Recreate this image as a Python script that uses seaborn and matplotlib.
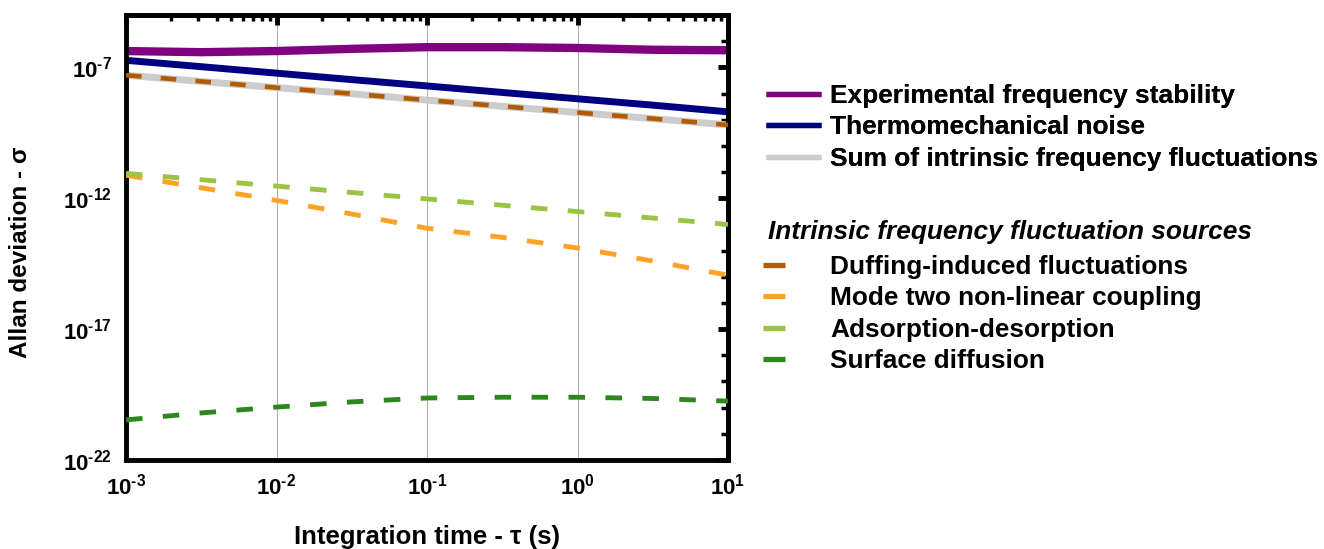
import matplotlib
matplotlib.use("Agg")
import matplotlib.pyplot as plt
import numpy as np
import pandas as pd
import seaborn as sns
from matplotlib.lines import Line2D
from matplotlib.ticker import FixedLocator, FixedFormatter, LogLocator, NullFormatter

# integration time (s)
tau = [1e-3, 10**-2.5, 1e-2, 10**-1.5, 1e-1, 10**-0.5, 1e0, 10**0.5, 1e1]

# Allan deviation of each curve
experimental = [4.2e-7, 3.8e-7, 4.2e-7, 5.1e-7, 5.9e-7, 5.9e-7, 5.5e-7, 4.7e-7, 4.5e-7]
thermomechanical = [1.86e-7, 1.06e-7, 6.0e-8, 3.4e-8, 1.95e-8, 1.1e-8, 6.3e-9, 3.6e-9, 2.0e-9]
intrinsic_sum = [5.0e-8, 2.9e-8, 1.68e-8, 9.8e-9, 5.6e-9, 3.25e-9, 1.88e-9, 1.1e-9, 6.3e-10]
duffing = [5.0e-8, 2.9e-8, 1.68e-8, 9.8e-9, 5.6e-9, 3.25e-9, 1.88e-9, 1.1e-9, 6.3e-10]
mode_two = [7.6e-12, 2.5e-12, 8.3e-13, 2.5e-13, 7.1e-14, 3.2e-14, 1.26e-14, 4.0e-15, 1.15e-15]
adsorption = [8.9e-12, 5.1e-12, 2.9e-12, 1.66e-12, 9.4e-13, 5.4e-13, 3.1e-13, 1.75e-13, 1.0e-13]
surface_diff = [3.4e-21, 6.3e-21, 1.05e-20, 1.66e-20, 2.34e-20, 2.5e-20, 2.5e-20, 2.24e-20, 1.78e-20]

main_labels = ["Experimental frequency stability", "Thermomechanical noise",
               "Sum of intrinsic frequency fluctuations"]
source_title = "Intrinsic frequency fluctuation sources"
source_labels = ["Duffing-induced fluctuations", "Mode two non-linear coupling",
                 "Adsorption-desorption", "Surface diffusion"]

x_ticks = [1e-3, 1e-2, 1e-1, 1e0, 1e1]
x_exponents = ["-3", "-2", "-1", "0", "1"]
y_ticks = [1e-22, 1e-17, 1e-12, 1e-7]
y_exponents = ["-22", "-17", "-12", "-7"]

sns.set_theme(style="white")
plt.rcParams["font.family"] = ["Liberation Sans", "DejaVu Sans"]
plt.rcParams["font.weight"] = "bold"
plt.rcParams["mathtext.fontset"] = "custom"
plt.rcParams["mathtext.bf"] = "Liberation Sans:bold"
plt.rcParams["mathtext.rm"] = "Liberation Sans:bold"
plt.rcParams["mathtext.it"] = "Liberation Sans:bold"
for key in ["text.color", "axes.labelcolor", "xtick.color", "ytick.color"]:
    plt.rcParams[key] = "black"


def power_labels(exps):
    return [r"$10^{\text{%s}}$" % e for e in exps]


fig = plt.figure(figsize=(13.24, 5.49), dpi=100)
ax = fig.add_axes([126 / 1324, 89 / 549, 602 / 1324, 445 / 549])

# vertical grid lines at decades
for xv in x_ticks[1:-1]:
    ax.axvline(xv, color="#b0b0b0", lw=0.8, zorder=0)

solid_styles = [
    (experimental, "#800080", 6.0),
    (thermomechanical, "#000080", 5.0),
    (intrinsic_sum, "#cccccc", 5.0),
]
dashed_styles = [
    (duffing, "#b35a00", 3.3),
    (mode_two, "#ffa326", 3.5),
    (adsorption, "#9bc447", 3.5),
    (surface_diff, "#2e861e", 3.5),
]

for vals, col, lw in solid_styles:
    sns.lineplot(x=tau, y=vals, color=col, lw=lw, ax=ax, zorder=2)
for vals, col, lw in dashed_styles:
    sns.lineplot(x=tau, y=vals, color=col, lw=lw, ax=ax, zorder=3,
                 linestyle=(0, (3.4, 4.2)))

ax.set_xscale("log")
ax.set_yscale("log")
ax.set_xlim(1e-3, 10)
ax.set_ylim(1e-22, 1e-5)

ax.xaxis.set_major_locator(FixedLocator(x_ticks))
ax.xaxis.set_major_formatter(FixedFormatter(power_labels(x_exponents)))
ax.xaxis.set_minor_locator(LogLocator(base=10, subs=np.arange(2, 10)))
ax.xaxis.set_minor_formatter(NullFormatter())
ax.yaxis.set_major_locator(FixedLocator(y_ticks))
ax.yaxis.set_major_formatter(FixedFormatter(power_labels(y_exponents)))
ax.yaxis.set_minor_locator(LogLocator(base=10, subs=[1.0], numticks=30))
ax.yaxis.set_minor_formatter(NullFormatter())

for sp in ax.spines.values():
    sp.set_linewidth(3.5)
    sp.set_color("black")

ax.tick_params(which="major", direction="out", length=6, width=3.5,
               labelsize=16, pad=4)
ax.tick_params(which="minor", direction="out", length=4, width=2.5)

# inward ticks on the top and right edges
top = ax.secondary_xaxis("top", functions=(lambda v: v, lambda v: v))
top.xaxis.set_major_locator(FixedLocator(x_ticks))
top.xaxis.set_minor_locator(LogLocator(base=10, subs=np.arange(2, 10)))
top.xaxis.set_major_formatter(NullFormatter())
top.xaxis.set_minor_formatter(NullFormatter())
top.tick_params(which="major", direction="in", length=7, width=3.5)
top.tick_params(which="minor", direction="in", length=4, width=2.5)
top.spines["top"].set_linewidth(3.5)

right = ax.secondary_yaxis("right", functions=(lambda v: v, lambda v: v))
right.yaxis.set_major_locator(FixedLocator(y_ticks))
right.yaxis.set_minor_locator(LogLocator(base=10, subs=[1.0], numticks=30))
right.yaxis.set_major_formatter(NullFormatter())
right.yaxis.set_minor_formatter(NullFormatter())
right.tick_params(which="major", direction="in", length=7, width=3.5)
right.tick_params(which="minor", direction="in", length=5, width=2.5)
right.spines["right"].set_linewidth(3.5)

ax.set_xlabel("Integration time - \u03c4 (s)", fontsize=18.5, fontweight="bold", labelpad=18)
ax.set_ylabel("Allan deviation - \u03c3", fontsize=17.5, fontweight="bold")
ax.yaxis.set_label_coords(-0.156, 0.467)

# legends on the right
leg_font = {"size": 18.9, "weight": "bold"}
main_handles = [Line2D([], [], color=c, lw=3.8, ls="-", solid_capstyle="butt")
                for _, c, _ in solid_styles]
leg1 = fig.legend(main_handles, main_labels, loc="upper left",
                  bbox_to_anchor=(766 / 1324, 1 - 84 / 549), frameon=False,
                  prop=leg_font, handlelength=2.1, handletextpad=0.34,
                  labelspacing=0.28, borderpad=0, borderaxespad=0)

fig.text(768 / 1324, 1 - 232 / 549, source_title, fontsize=18.9,
         fontweight="bold", fontstyle="italic", va="center", ha="left")

src_handles = [Line2D([], [], color=c, lw=3.8, ls="-", solid_capstyle="butt")
               for _, c, _ in dashed_styles]
leg2 = fig.legend(src_handles, source_labels, loc="upper left",
                  bbox_to_anchor=(763 / 1324, 1 - 255 / 549), frameon=False,
                  prop=leg_font, handlelength=0.84, handletextpad=1.71,
                  labelspacing=0.28, borderpad=0, borderaxespad=0)
fig.add_artist(leg1)

fig.savefig("out.png", dpi=100)
